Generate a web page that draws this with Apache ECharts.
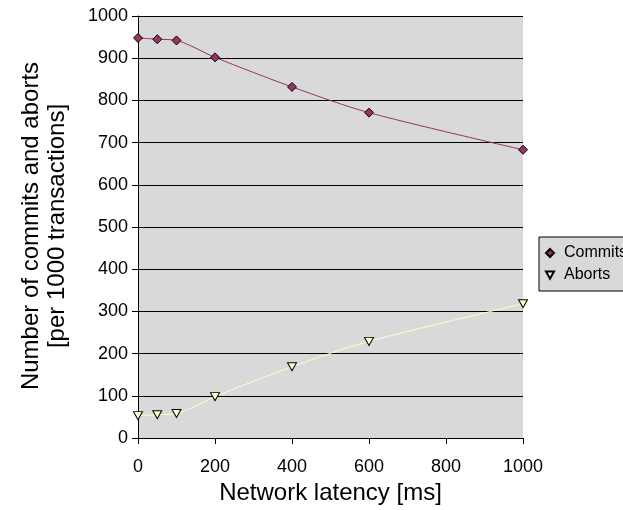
<!DOCTYPE html>
<html>
<head>
<meta charset="utf-8">
<script src="https://cdn.jsdelivr.net/npm/echarts@6/dist/echarts.min.js"></script>
<style>
html,body{margin:0;padding:0;background:#fff;}
#chart{width:623px;height:510px;}
</style>
</head>
<body>
<div id="chart"></div>
<script>
var latency = [0, 50, 100, 200, 400, 600, 1000];
var commits = [948, 945, 942, 902, 832, 771, 683];
var aborts = [53, 55, 58, 98, 169, 229, 318];
var seriesNames = ['Commits', 'Aborts'];
var xTitle = 'Network latency [ms]';
var yTitle = 'Number of commits and aborts\n[per 1000 transactions]';

function pairs(xs, ys) { return xs.map(function (x, i) { return [x, ys[i]]; }); }
function plain(v) { return String(v); }

var font = '"Liberation Sans", Arial, sans-serif';
var chart = echarts.init(document.getElementById('chart'));
chart.setOption({
  animation: false,
  backgroundColor: '#ffffff',
  textStyle: { fontFamily: font, color: '#000' },
  grid: { left: 138, right: 100, top: 16, bottom: 71, show: true, backgroundColor: '#d9d9d9', borderWidth: 0 },
  xAxis: {
    type: 'value', min: 0, max: 1000, interval: 200,
    axisLine: { show: true, lineStyle: { color: '#000', width: 1 } },
    axisTick: { show: true, inside: false, length: 6, lineStyle: { color: '#000' } },
    axisLabel: { fontSize: 18, color: '#000', fontFamily: font, margin: 20, formatter: plain },
    splitLine: { show: false },
    name: xTitle, nameLocation: 'middle', nameGap: 43,
    nameTextStyle: { fontSize: 24, color: '#000', fontFamily: font }
  },
  yAxis: {
    type: 'value', min: 0, max: 1000, interval: 100,
    axisLine: { show: true, lineStyle: { color: '#000', width: 1 } },
    axisTick: { show: true, inside: false, length: 6, lineStyle: { color: '#000' } },
    axisLabel: { fontSize: 18, color: '#000', fontFamily: font, margin: 10, formatter: plain },
    splitLine: { show: true, lineStyle: { color: '#000', width: 1 } }
  },
  legend: {
    orient: 'vertical', left: 539, top: 237,
    backgroundColor: '#d9d9d9', borderColor: '#000', borderWidth: 1,
    padding: [8, 30, 8, 6], itemGap: 6, itemWidth: 8, itemHeight: 8,
    textStyle: { fontSize: 16, color: '#000', fontFamily: font, padding: [0, 0, 0, 5], lineHeight: 16 },
    data: [
      { name: seriesNames[0], icon: 'diamond' },
      { name: seriesNames[1], icon: 'path://M0,0L10,0L5,9Z' }
    ]
  },
  graphic: [{
    type: 'text', x: 44, y: 226, rotation: Math.PI / 2,
    style: { text: yTitle, fontSize: 24, fontFamily: font, fill: '#000', align: 'center', verticalAlign: 'middle', lineHeight: 26 }
  }],
  series: [
    {
      name: seriesNames[0], type: 'line', smooth: 0.3,
      data: pairs(latency, commits),
      symbol: 'diamond', symbolSize: 9,
      lineStyle: { color: '#993366', width: 1 },
      itemStyle: { color: '#993366', borderColor: '#000', borderWidth: 1 }
    },
    {
      name: seriesNames[1], type: 'line', smooth: 0.3,
      data: pairs(latency, aborts),
      symbol: 'path://M0,0L10,0L5,9Z', symbolSize: [9, 8],
      lineStyle: { color: '#ffffcc', width: 1 },
      itemStyle: { color: '#ffffcc', borderColor: '#000', borderWidth: 1 }
    }
  ]
});
</script>
</body>
</html>
